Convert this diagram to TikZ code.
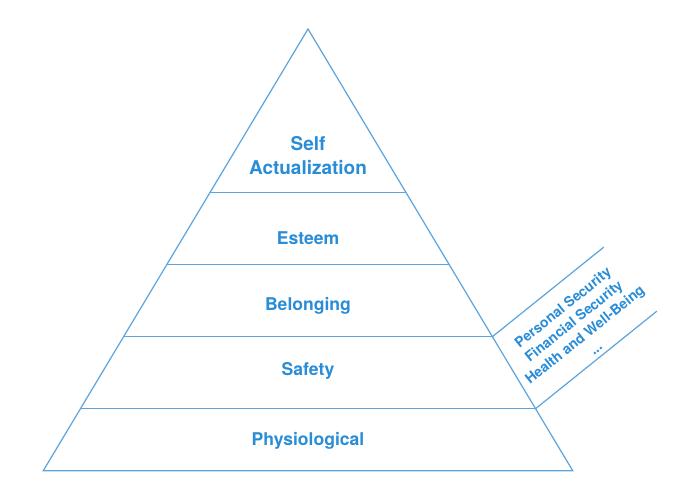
\documentclass[tikz,border=0pt]{standalone}
\usepackage{fontspec}
\setmainfont{TeX Gyre Heros}
\definecolor{pyrline}{RGB}{95,165,220}
\definecolor{pyrtext}{RGB}{40,140,215}
\tikzset{
  tier/.style={text=pyrtext, font=\bfseries\fontsize{10}{13.6}\selectfont, align=center},
  needs/.style={text=pyrtext, font=\bfseries\fontsize{8}{9.9}\selectfont, align=center, rotate=38.8}
}
\begin{document}
\begin{tikzpicture}
            \useasboundingbox (0,0) rectangle (14,10);
            \coordinate (apex) at (6.16,9.42);
            \coordinate (baseL) at (0.866,0.586);
            \coordinate (baseR) at (11.454,0.586);
            \draw[pyrline, line width=0.7pt] (apex) -- (baseL) -- (baseR) -- cycle;
            \draw[pyrline, line width=0.7pt] (4.198,6.146) -- (8.122,6.146);
            \draw[pyrline, line width=0.7pt] (3.335,4.706) -- (8.985,4.706);
            \draw[pyrline, line width=0.7pt] (2.472,3.266) -- (9.848,3.266);
            \draw[pyrline, line width=0.7pt] (1.609,1.826) -- (10.711,1.826);
            \draw[pyrline, line width=0.7pt] (9.848,3.266) -- ++(38.8:2.86);
            \draw[pyrline, line width=0.7pt] (10.711,1.826) -- ++(38.8:3.114);
            \node[tier, font=\bfseries\fontsize{10.8}{13.6}\selectfont] (selfact) at (6.16,6.88) {Self\\Actualization};
            \node[tier, anchor=base] (esteem) at (6.16,5.10) {Esteem};
            \node[tier, anchor=base] (belonging) at (6.16,3.78) {Belonging};
            \node[tier, anchor=base] (safety) at (6.16,2.48) {Safety};
            \node[tier, anchor=base] (physio) at (6.16,1.08) {Physiological};
            \node[needs] (security) at (11.58,3.45)
              {Personal Security\\Financial Security\\Health and Well-Being\\...};
          \end{tikzpicture}
\end{document}
